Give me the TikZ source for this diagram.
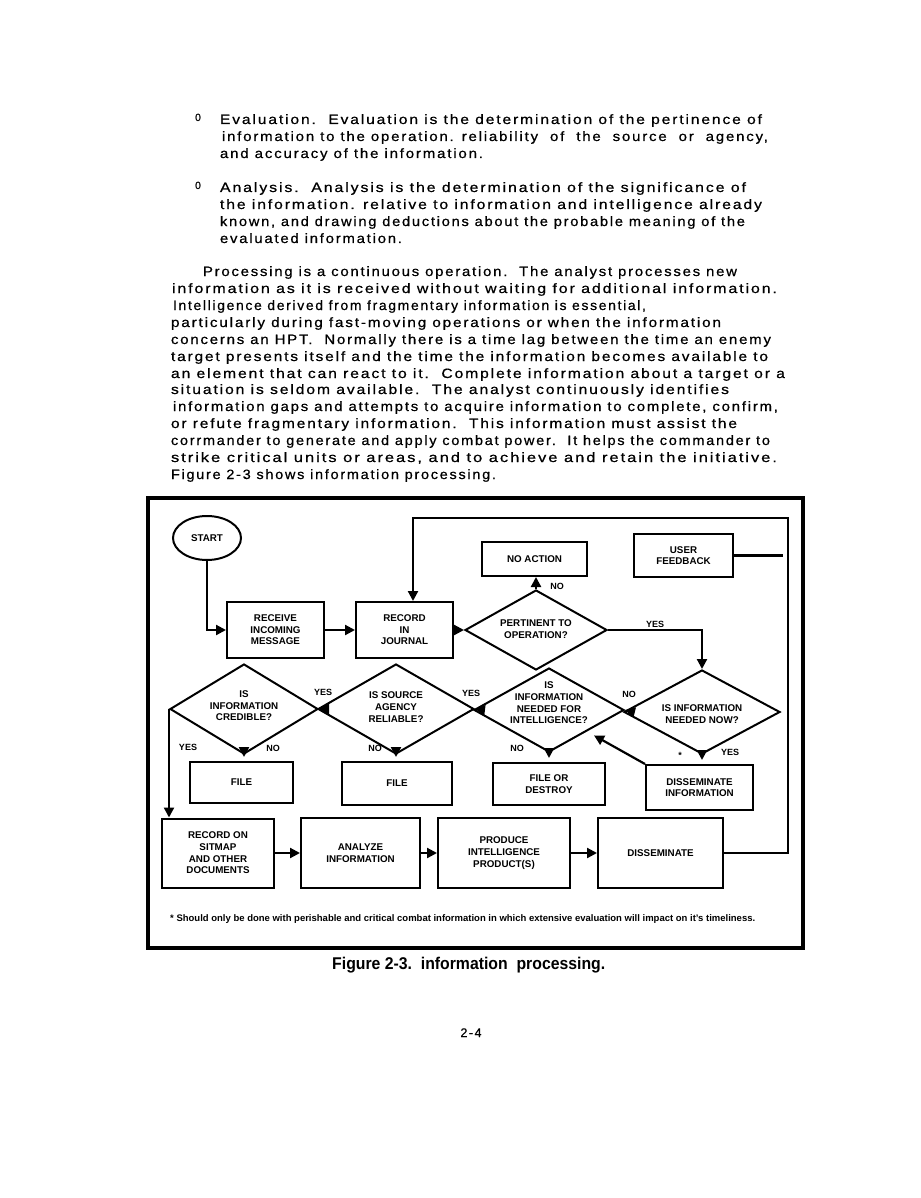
\documentclass[tikz,border=0pt]{standalone}
\usepackage{fontspec}
\setmainfont{Liberation Sans}
\newfontfamily\bodyf[LetterSpace=12,FakeBold=0.6]{Liberation Sans}
\usetikzlibrary{shapes.geometric,arrows.meta}

\newcommand\dfont{\fontsize{9.8}{11.6}\selectfont\bfseries}
\newcommand\lfont{\fontsize{9}{10}\selectfont\bfseries}
\newcommand\bline[5]{\node[btext] (#1) at (#2,#3) {\resizebox{#4pt}{\height}{\bodyf\fontsize{13.5}{15}\selectfont #5}};}

\tikzset{
  btext/.style={anchor=base west, inner sep=0, outer sep=0},
  box/.style={draw, line width=2pt, inner sep=0, align=center, font=\dfont},
  dia/.style={draw, diamond, line width=2pt, inner sep=0},
  dtext/.style={align=center, font=\dfont, inner sep=0},
  lbl/.style={font=\lfont, inner sep=0},
  ln/.style={line width=2.2pt},
  arr/.style={line width=2.2pt, -{Triangle[length=10pt,width=10pt]}},
}

\begin{document}
\begin{tikzpicture}[x=1pt,y=-1pt]
\fill[white] (0,0) rectangle (920,1198);
\useasboundingbox (0,0) rectangle (920,1198);

% ---------- body text ----------
\node[anchor=base, inner sep=0, font=\bodyf\fontsize{10.5}{10}\selectfont] (bul1) at (198,121) {0};
\bline{p1a}{220}{124}{542}{Evaluation.\ \ Evaluation is the determination of the pertinence of}
\bline{p1b}{222}{141}{546}{information to the operation. reliability\ \ of\ \ the\ \ source\ \ or\ \ agency,}
\bline{p1c}{220}{158}{263}{and accuracy of the information.}
\node[anchor=base, inner sep=0, font=\bodyf\fontsize{10.5}{10}\selectfont] (bul2) at (198,189) {0};
\bline{p2a}{220}{192}{526}{Analysis.\ \ Analysis is the determination of the significance of}
\bline{p2b}{220}{209}{542}{the information. relative to information and intelligence already}
\bline{p2c}{220}{226}{525}{known, and drawing deductions about the probable meaning of the}
\bline{p2d}{220}{243}{182}{evaluated information.}

\bline{q1}{203}{276}{534}{Processing is a continuous operation.\ \ The analyst processes new}
\bline{q2}{172}{293}{605}{information as it is received without waiting for additional information.}
\bline{q3}{173}{310}{473}{Intelligence derived from fragmentary information is essential,}
\bline{q4}{171}{327}{550}{particularly during fast-moving operations or when the information}
\bline{q5}{171}{344}{600}{concerns an HPT.\ \ Normally there is a time lag between the time an enemy}
\bline{q6}{171}{361}{597}{target presents itself and the time the information becomes available to}
\bline{q7}{171}{378}{614}{an element that can react to it.\ \ Complete information about a target or a}
\bline{q8}{171}{394}{558}{situation is seldom available.\ \ The analyst continuously identifies}
\bline{q9}{173}{411}{605}{information gaps and attempts to acquire information to complete, confirm,}
\bline{q10}{171}{428}{566}{or refute fragmentary information.\ \ This information must assist the}
\bline{q11}{171}{445}{599}{corrmander to generate and apply combat power.\ \ It helps the commander to}
\bline{q12}{171}{462}{606}{strike critical units or areas, and to achieve and retain the initiative.}
\bline{q13}{171}{479}{325}{Figure 2-3 shows information processing.}

% ---------- frame ----------
\draw[line width=4pt] (148,498) rectangle (803,948);

% ---------- top row ----------
\node[draw, ellipse, line width=2pt, minimum width=68pt, minimum height=44pt, inner sep=0, font=\dfont] (start) at (207,538) {START};
\node[box, minimum width=97pt, minimum height=56pt] (receive) at (275.5,630) {RECEIVE\\INCOMING\\MESSAGE};
\node[box, minimum width=97pt, minimum height=56pt] (journal) at (404.5,630) {RECORD\\IN\\JOURNAL};
\node[box, minimum width=105pt, minimum height=34pt] (noaction) at (534.5,559) {NO ACTION};
\node[box, minimum width=99pt, minimum height=43pt] (feedback) at (683.5,555.5) {USER\\FEEDBACK};

\node[dia, minimum width=142pt, minimum height=80pt] (pert) at (536,630) {};
\node[dtext] (pertT) at (536,629) {PERTINENT TO\\OPERATION?};

% ---------- diamond row ----------
\node[dia, minimum width=156pt, minimum height=84pt] (now) at (702,712) {};
\node[dtext] (nowT) at (702,714) {IS INFORMATION\\NEEDED NOW?};
\node[dia, minimum width=150pt, minimum height=84pt] (intel) at (549,710) {};
\node[dtext] (intelT) at (549,703) {IS\\INFORMATION\\NEEDED FOR\\INTELLIGENCE?};
\node[dia, minimum width=156pt, minimum height=90pt] (source) at (396,709) {};
\node[dtext] (sourceT) at (396,707) {IS SOURCE\\AGENCY\\RELIABLE?};
\node[dia, minimum width=148pt, minimum height=90pt] (cred) at (244,709) {};
\node[dtext] (credT) at (244,706) {IS\\INFORMATION\\CREDIBLE?};

% ---------- file row ----------
\node[box, minimum width=103pt, minimum height=41pt] (file1) at (241.5,782.5) {FILE};
\node[box, minimum width=110pt, minimum height=43pt] (file2) at (397,783.5) {FILE};
\node[box, minimum width=112pt, minimum height=42pt] (fod) at (549,784) {FILE OR\\DESTROY};
\node[box, minimum width=107pt, minimum height=45pt] (dinf) at (699.5,787.5) {DISSEMINATE\\INFORMATION};

% ---------- bottom row ----------
\node[box, minimum width=112pt, minimum height=69pt] (sitmap) at (218,853) {RECORD ON\\SITMAP\\AND OTHER\\DOCUMENTS};
\node[box, minimum width=119pt, minimum height=70pt] (analyze) at (360.5,853) {ANALYZE\\INFORMATION};
\node[box, minimum width=132pt, minimum height=70pt] (produce) at (504,853) {PRODUCE\\INTELLIGENCE\\PRODUCT(S)};
\node[box, minimum width=125pt, minimum height=70pt] (dissem) at (660.5,853) {DISSEMINATE};

% ---------- connectors ----------
\draw[arr] (start.south) |- (receive.west);
\draw[arr] (receive.east) -- (journal.west);
\draw[arr] (journal.east) -- (pert.west);
\draw[arr] (pert.north) -- (pert.north |- noaction.south);
\draw[arr] (pert.east) -| (now.north);
\coordinate (fbE) at (783,555.5);
\draw[ln] (feedback.east) -- (fbE);

\draw[arr] ([xshift=10pt]now.west) -- (intel.east);
\draw[arr] ([xshift=10pt]intel.west) -- (source.east);
\draw[arr] ([xshift=10pt]source.west) -- (cred.east);
\draw[arr] (cred.west) -- (cred.west |- sitmap.north);

\draw[arr, shorten >=4pt] (cred.south) -- (cred.south |- file1.north);
\draw[arr, shorten >=4pt] (source.south) -- (source.south |- file2.north);
\draw[arr, shorten >=4pt] (intel.south) -- (intel.south |- fod.north);
\draw[arr, shorten >=4pt] (now.south) -- (now.south |- dinf.north);
\draw[arr, shorten >=8pt] (dinf.north west) -- (intel.south east);

\draw[arr] (sitmap.east) -- (analyze.west);
\draw[arr] (analyze.east) -- (produce.west);
\draw[arr] (produce.east) -- (dissem.west);

\coordinate (lpA) at (788,853);
\coordinate (lpB) at (788,518);
\coordinate (lpC) at (413,518);
\draw[arr] (dissem.east) -- (lpA) -- (lpB) -- (lpC) -- (lpC |- journal.north);

% ---------- labels ----------
\node[lbl] (lNo1) at (557,586) {NO};
\node[lbl] (lYes1) at (655,624) {YES};
\node[lbl] (lNo2) at (629,694) {NO};
\node[lbl] (lYes2) at (471,693) {YES};
\node[lbl] (lYes3) at (323,692) {YES};
\node[lbl] (lYes4) at (188,747) {YES};
\node[lbl] (lNo3) at (273,748) {NO};
\node[lbl] (lNo4) at (375,748) {NO};
\node[lbl] (lNo5) at (517,748) {NO};
\node[lbl] (lYes5) at (730,752) {YES};
\node[lbl] (lStar) at (680,755) {*};

% ---------- footnote, caption, page ----------
\node[anchor=base west, inner sep=0] (fn) at (170,921) {\resizebox{585pt}{\height}{\fontsize{9.5}{11}\selectfont\bfseries * Should only be done with perishable and critical combat information in which extensive evaluation will impact on it's timeliness.}};
\node[anchor=base west, inner sep=0] (cap) at (332,969) {\resizebox{273pt}{\height}{\fontsize{17}{20}\selectfont\bfseries Figure\ 2-3.\ \ information\ \ processing.}};
\node[anchor=base, inner sep=0] (pg) at (471,1037) {\bodyf\fontsize{12.5}{14}\selectfont 2-4};
\end{tikzpicture}
\end{document}
